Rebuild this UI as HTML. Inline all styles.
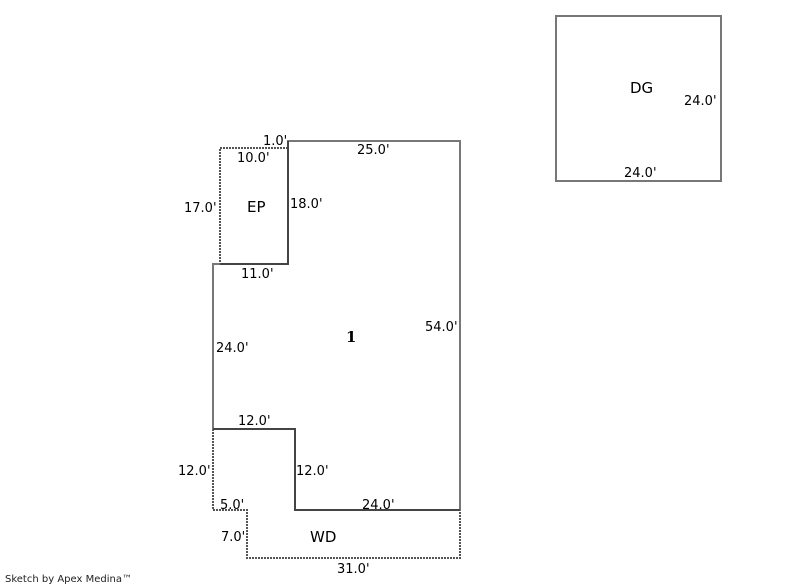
<!DOCTYPE html>
<html><head><meta charset="utf-8"><style>
html,body{margin:0;padding:0;background:#fff;width:800px;height:587px;overflow:hidden}
svg{display:block}
text{font-family:"DejaVu Sans","Liberation Sans",sans-serif;font-size:13px;fill:#000}
</style></head><body>
<svg width="800" height="587" viewBox="0 0 800 587" xmlns="http://www.w3.org/2000/svg">
<g fill="none" stroke="#555" stroke-width="2" stroke-dasharray="2,1">
<polyline points="288,148 220,148 220,264"/>
<polyline points="213,429 213,510 247,510 247,558 460,558 460,510"/>
</g>
<g fill="none" stroke="#777" stroke-width="2">
<polygon points="288,141 460,141 460,510 295,510 295,429 213,429 213,264 288,264"/>
<rect x="556" y="16" width="165" height="165"/>
</g>
<g stroke="#444" stroke-width="2" fill="none">
<polyline points="220,264 288,264 288,141"/>
<polyline points="213,429 295,429 295,510 460,510"/>
</g>
<text x="263" y="145">1.0'</text>
<text x="357" y="154">25.0'</text>
<text x="237" y="162">10.0'</text>
<text x="184" y="212">17.0'</text>
<text x="247" y="212" style="font-size:15px;font-weight:500">EP</text>
<text x="290" y="208">18.0'</text>
<text x="241" y="278">11.0'</text>
<text x="425" y="331">54.0'</text>
<text x="346" y="342" style="font-family:'DejaVu Serif','Liberation Serif',serif;font-size:15px;font-weight:bold">1</text>
<text x="216" y="352">24.0'</text>
<text x="238" y="425">12.0'</text>
<text x="178" y="475">12.0'</text>
<text x="296" y="475">12.0'</text>
<text x="220" y="509">5.0'</text>
<text x="362" y="509">24.0'</text>
<text x="221" y="541">7.0'</text>
<text x="310" y="542" style="font-size:15px;font-weight:500">WD</text>
<text x="337" y="573">31.0'</text>
<text x="630" y="93" style="font-size:15px;font-weight:500">DG</text>
<text x="684" y="105">24.0'</text>
<text x="624" y="177">24.0'</text>
<text x="5" y="582" style="font-size:10px;fill:#222">Sketch by Apex Medina™</text>
</svg>
</body></html>
